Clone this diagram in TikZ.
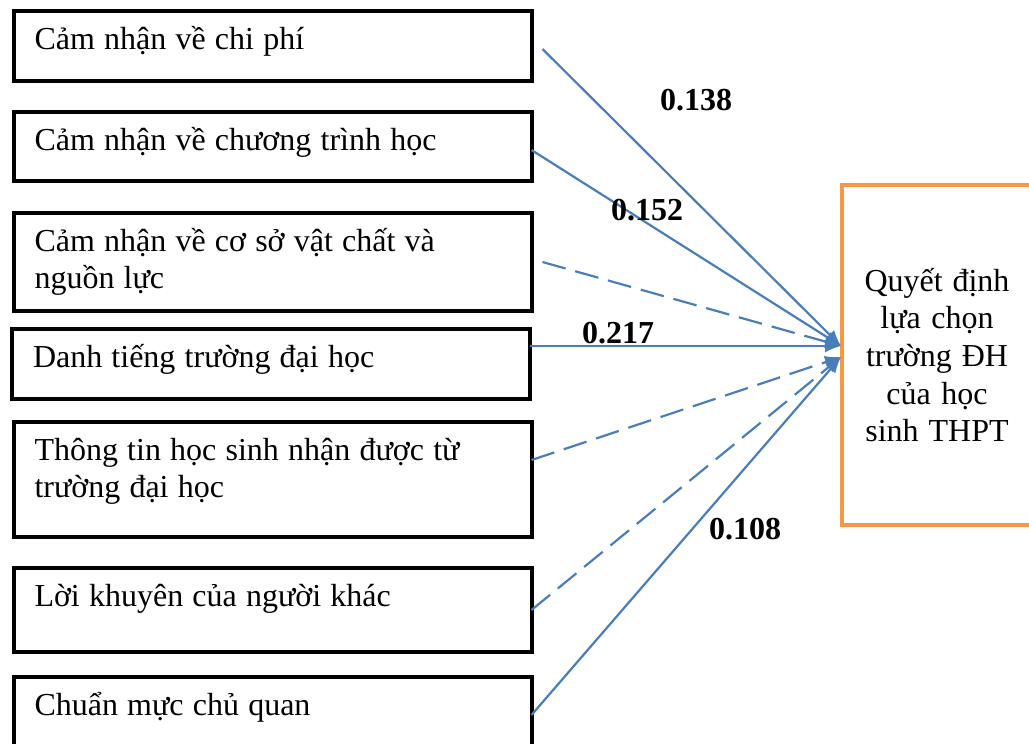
\documentclass[tikz,border=0pt]{standalone}
\usepackage{fontspec}
\setmainfont{Liberation Serif}
\usepackage{xcolor}
\usetikzlibrary{arrows.meta}

\definecolor{lineblue}{HTML}{4A7EBB}
\definecolor{boxorange}{HTML}{F79646}
\newcommand\tightsp{\spaceskip=4.6pt plus 1pt minus 0.5pt\relax}

\begin{document}
\begin{tikzpicture}[x=0.5pt,y=-0.5pt,
    font=\fontsize{16}{18.5}\selectfont,
    every node/.style={execute at begin node=\tightsp},
    factor/.style={draw,line width=2pt,anchor=north west,outer sep=0pt,
      inner xsep=10.5pt,inner ysep=0pt,text width=238pt,align=left,
      text height=19pt,text depth=#1},
    effect/.style={lineblue,line width=1.1pt,-{Latex[length=8pt,width=6.5pt]}},
    weak/.style={effect,dash pattern=on 12pt off 5pt},
    coef/.style={font=\fontsize{16}{18.5}\selectfont\bfseries}]
  \clip (0,0) rectangle (1029,744);

  % factors
  \node[factor=16pt] (b1) at (13.5,11) {Cảm nhận về chi phí};
  \node[factor=15.5pt] (b2) at (13.5,112) {Cảm nhận về chương trình học};
  \node[factor=30pt] (b3) at (13.5,213) {Cảm nhận về cơ sở vật chất và\\nguồn lực};
  \node[factor=16pt] (b4) at (12,329) {Danh tiếng trường đại học};
  \node[factor=38.5pt] (b5) at (13.5,422) {Thông tin học sinh nhận được từ\\trường đại học};
  \node[factor=23pt] (b6) at (13.5,568) {Lời khuyên của người khác};
  \node[factor=32.5pt] (b7) at (13.5,677) {Chuẩn mực chủ quan};

  % decision
  \node[draw=boxorange,line width=2pt,anchor=north west,outer sep=0pt,
    inner sep=0pt,text width=95.5pt,minimum height=170pt,align=center,
    font=\fontsize{16}{18.8}\selectfont]
    (dec) at (841.5,185) {Quyết định\\lựa chọn\\trường ĐH\\của học\\sinh THPT};

  \coordinate (up) at (841,346);
  \coordinate (lo) at (841,357);

  \draw[effect] ([xshift=5.5pt]b1.base east) -- (up);
  \draw[effect] (b2.base east) -- (up);
  \draw[weak] ([xshift=5.5pt]b3.east) -- (up);
  \draw[effect] (up -| b4.east) -- (up);
  \draw[weak] (b5.base east) -- (lo);
  \draw[weak] (b6.east) -- (lo);
  \draw[effect] (b7.base east) -- (lo);

  % coefficients
  \node[coef] (c1) at (696,100) {0.138};
  \node[coef] (c2) at (647,210) {0.152};
  \node[coef] (c3) at (618,333) {0.217};
  \node[coef] (c4) at (745,529) {0.108};
\end{tikzpicture}
\end{document}
